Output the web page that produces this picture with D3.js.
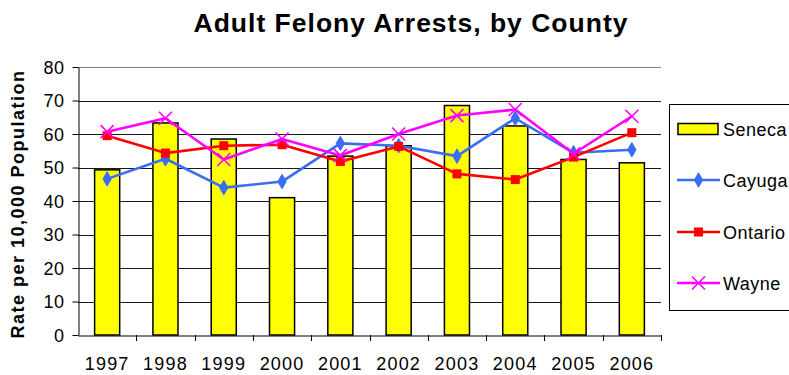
<!DOCTYPE html>
<html>
<head>
<meta charset="utf-8">
<script src="https://cdn.jsdelivr.net/npm/d3@7"></script>
<style>
  html, body { margin: 0; padding: 0; background: #fff; }
  svg { display: block; font-family: "Liberation Sans", Arial, sans-serif; }
</style>
</head>
<body>
<svg id="chart" width="789" height="375"></svg>
<script>
// Adult felony arrest rates per 10,000 population, 1997–2006
const years = ["1997", "1998", "1999", "2000", "2001", "2002", "2003", "2004", "2005", "2006"];
const seneca  = [49.3, 63.3, 58.5, 41.0, 53.4, 56.5, 68.5, 62.4, 52.4, 51.4];
const cayuga  = [46.6, 52.6, 44.0, 45.8, 57.2, 56.5, 53.4, 64.7, 54.4, 55.3];
const ontario = [59.5, 54.3, 56.5, 56.8, 51.8, 56.3, 48.1, 46.4, 53.1, 60.4];
const wayne   = [60.7, 64.7, 52.4, 58.5, 53.6, 60.0, 65.5, 67.3, 54.1, 65.3];
const yTicks  = [0, 10, 20, 30, 40, 50, 60, 70, 80];

const lineSeries = [
  { name: "Cayuga",  values: cayuga,  color: "#3a6cf4", marker: "diamond" },
  { name: "Ontario", values: ontario, color: "#ff0000", marker: "square" },
  { name: "Wayne",   values: wayne,   color: "#ff00ff", marker: "cross" }
];

const FONT = "'Liberation Sans', Arial, sans-serif";
const svg = d3.select("#chart");
const plot = { left: 78, right: 661, top: 67, bottom: 335 };

const x = d3.scaleBand().domain(years).range([plot.left, plot.right]);
const y = d3.scaleLinear().domain([0, 80]).range([plot.bottom, plot.top]);

// Title
svg.append("text")
  .attr("x", 411).attr("y", 32)
  .attr("text-anchor", "middle")
  .attr("font-size", 26.5).attr("font-weight", "bold")
  .attr("letter-spacing", 1)
  .text("Adult Felony Arrests, by County");

// Horizontal gridlines
svg.append("g")
  .selectAll("line")
  .data(yTicks.filter(t => t > 0))
  .join("line")
  .attr("x1", plot.left).attr("x2", plot.right)
  .attr("y1", d => Math.round(y(d)) + 0.5).attr("y2", d => Math.round(y(d)) + 0.5)
  .attr("stroke", d => d === 80 ? "#808080" : "#1a1a1a")
  .attr("stroke-width", 1);

// Y axis
const yAxis = svg.append("g")
  .attr("transform", `translate(${plot.left + 0.5},0)`)
  .call(d3.axisLeft(y).tickValues(yTicks).tickSize(6).tickPadding(8).tickSizeOuter(0));
yAxis.select(".domain").attr("stroke", "#000");
yAxis.selectAll(".tick line").attr("stroke", "#000");
yAxis.selectAll("text")
  .attr("font-size", 18).attr("fill", "#000").attr("font-family", FONT)
  .attr("letter-spacing", 0.5).attr("dy", "0.36em");

// Y axis title
svg.append("text")
  .attr("transform", `translate(24,204) rotate(-90)`)
  .attr("text-anchor", "middle")
  .attr("font-size", 18).attr("font-weight", "bold")
  .attr("letter-spacing", 1.5)
  .text("Rate per 10,000 Population");

// Seneca bars
const barW = x.bandwidth() * 0.43;
svg.append("g")
  .selectAll("rect")
  .data(seneca)
  .join("rect")
  .attr("x", (d, i) => x(years[i]) + (x.bandwidth() - barW) / 2)
  .attr("y", d => y(d))
  .attr("width", barW)
  .attr("height", d => y(0) - y(d))
  .attr("fill", "#ffff00")
  .attr("stroke", "#000")
  .attr("stroke-width", 1.5);

// X axis
const xAxis = svg.append("g")
  .attr("transform", `translate(0,${plot.bottom + 0.5})`)
  .call(d3.axisBottom(x).tickSize(0).tickSizeOuter(0));
xAxis.select(".domain").attr("stroke", "#000");
xAxis.selectAll("text")
  .attr("font-size", 18).attr("fill", "#000").attr("font-family", FONT)
  .attr("letter-spacing", 1.2)
  .attr("y", 34.5).attr("dy", 0);
// Tick marks between categories
svg.append("g")
  .selectAll("line")
  .data(d3.range(1, years.length + 1))
  .join("line")
  .attr("x1", i => Math.round(plot.left + i * x.step()) + 0.5)
  .attr("x2", i => Math.round(plot.left + i * x.step()) + 0.5)
  .attr("y1", plot.bottom).attr("y2", plot.bottom + 6)
  .attr("stroke", "#000");

// Marker drawing helper
function drawMarker(g, type, color, size) {
  if (type === "diamond") {
    g.append("path").attr("d", d3.symbol(d3.symbolDiamond, size * size * 0.6)())
      .attr("fill", color).attr("stroke", color);
  } else if (type === "square") {
    g.append("rect").attr("x", -size / 2).attr("y", -size / 2)
      .attr("width", size).attr("height", size).attr("fill", color);
  } else {
    const h = size / 2;
    g.append("path").attr("d", `M${-h},${-h}L${h},${h}M${-h},${h}L${h},${-h}`)
      .attr("stroke", color).attr("stroke-width", 1.6).attr("fill", "none");
  }
}
const markerSize = { diamond: 10, square: 9, cross: 13 };

// Line series
const line = d3.line()
  .x((d, i) => x(years[i]) + x.bandwidth() / 2)
  .y(d => y(d));

lineSeries.forEach(s => {
  const g = svg.append("g");
  g.append("path")
    .attr("d", line(s.values))
    .attr("fill", "none")
    .attr("stroke", s.color)
    .attr("stroke-width", 2.6)
    .attr("stroke-linejoin", "round");
  s.values.forEach((v, i) => {
    const m = g.append("g")
      .attr("transform", `translate(${x(years[i]) + x.bandwidth() / 2},${y(v)})`);
    drawMarker(m, s.marker, s.color, markerSize[s.marker]);
  });
});

// Legend
const legend = svg.append("g");
legend.append("rect")
  .attr("x", 669.5).attr("y", 104.5)
  .attr("width", 140).attr("height", 206)
  .attr("fill", "#fff").attr("stroke", "#000").attr("stroke-width", 1);

const legendItems = [
  { name: "Seneca", kind: "bar" },
  ...lineSeries.map(s => ({ name: s.name, kind: "line", color: s.color, marker: s.marker }))
];
const legendY = [129, 180, 232, 283];
legendItems.forEach((item, i) => {
  const gy = legendY[i];
  const g = legend.append("g");
  if (item.kind === "bar") {
    g.append("rect").attr("x", 678).attr("y", gy - 5.5)
      .attr("width", 40).attr("height", 11)
      .attr("fill", "#ffff00").attr("stroke", "#000").attr("stroke-width", 1.5);
  } else {
    g.append("line").attr("x1", 677).attr("x2", 720)
      .attr("y1", gy).attr("y2", gy)
      .attr("stroke", item.color).attr("stroke-width", 2.6);
    const m = g.append("g").attr("transform", `translate(698.5,${gy})`);
    drawMarker(m, item.marker, item.color, markerSize[item.marker]);
  }
  g.append("text").attr("x", 723).attr("y", gy + 6.7)
    .attr("font-size", 18).attr("fill", "#000").attr("letter-spacing", 0.5)
    .text(item.name);
});
</script>
</body>
</html>
